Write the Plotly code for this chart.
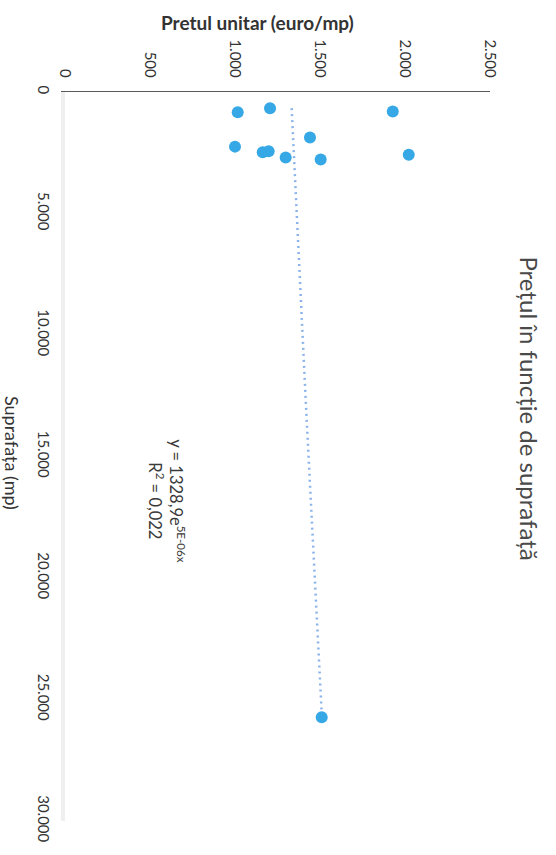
import numpy as np
import plotly.graph_objects as go

# Surface (mp) and unit price (euro/mp) of each property
suprafata = [830, 666, 805, 1868, 2248, 2481, 2440, 2697, 2779, 2587, 25734]
pret_unitar = [1016, 1206, 1928, 1441, 1000, 1163, 1198, 1298, 1504, 2022, 1510]

# Exponential trendline y = a * e^(b x), as printed on the chart
trend_a = 1328.9
trend_b = 5e-06
trend_label = "y = 1328,9e<sup>5E-06x</sup><br>R<sup>2</sup> = 0,022"

price_ticks = [0, 500, 1000, 1500, 2000, 2500]
area_ticks = [0, 5000, 10000, 15000, 20000, 25000, 30000]

FONT = "Lato, 'Open Sans', sans-serif"
TEXT = "#333333"

trend_x = np.linspace(min(suprafata), max(suprafata), 200)
trend_y = trend_a * np.exp(trend_b * trend_x)

fig = go.Figure()

# the chart is laid out turned a quarter turn clockwise:
# price runs left-to-right, surface runs top-to-bottom
fig.add_trace(go.Scatter(
    x=trend_y, y=trend_x, mode="lines",
    line=dict(color="#8db4ea", width=2.5, dash="2px,4px"),
    hoverinfo="skip", showlegend=False,
))
fig.add_trace(go.Scatter(
    x=pret_unitar, y=suprafata, mode="markers",
    marker=dict(color="#36a8e6", size=12, line=dict(width=0)),
    showlegend=False,
))

fig.update_layout(
    width=556, height=855,
    margin=dict(l=65, r=66, t=92, b=29),
    paper_bgcolor="white", plot_bgcolor="white",
    separators=",.",
    font=dict(family=FONT, color=TEXT, size=14),
    xaxis=dict(
        side="top", range=[0, 2500], tickvals=price_ticks, tickformat=",d",
        tickangle=90, showgrid=False, zeroline=False,
        showline=True, linecolor="#5a5a5a", linewidth=1,
        ticks="", ticklabelstandoff=8,
        tickfont=dict(family=FONT, size=15, color=TEXT),
    ),
    yaxis=dict(
        range=[30000, 0], tickvals=area_ticks, tickformat=",d",
        tickangle=90, showgrid=False, zeroline=False,
        showline=True, linecolor="#efefef", linewidth=4,
        ticks="", ticklabelstandoff=5,
        tickfont=dict(family=FONT, size=15, color=TEXT),
    ),
    annotations=[
        dict(text="Pretul unitar (euro/mp)", xref="paper", yref="paper",
             x=0.452, y=1.095, showarrow=False, xanchor="center", yanchor="middle",
             font=dict(family=FONT, size=19, color="#333333", weight="bold")),
        dict(text="Suprafața (mp)", xref="paper", yref="paper",
             x=-0.125, y=0.505, showarrow=False, textangle=90,
             xanchor="center", yanchor="middle",
             font=dict(family=FONT, size=18, color="#333333")),
        dict(text="Prețul în funcție de suprafață", xref="paper", yref="paper",
             x=1.094, y=0.566, showarrow=False, textangle=90,
             xanchor="center", yanchor="middle",
             font=dict(family=FONT, size=24, color="#4a4a4a")),
        dict(text=trend_label, xref="paper", yref="paper",
             x=0.24, y=0.44, showarrow=False, textangle=90,
             xanchor="center", yanchor="middle", align="center",
             font=dict(family=FONT, size=16.5, color="#3a3a3a")),
    ],
)

fig.write_html("out.html")
